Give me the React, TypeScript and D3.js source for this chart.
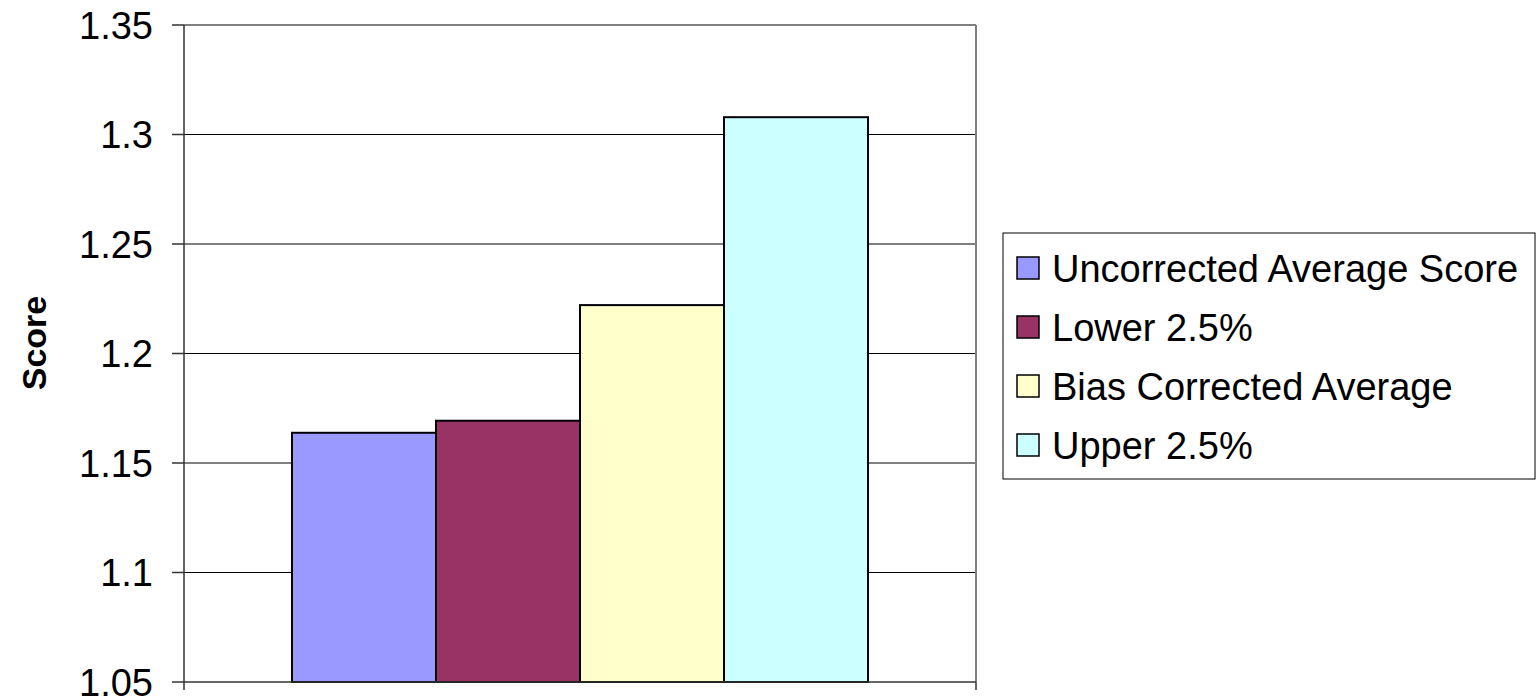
import React from "react";
import * as d3 from "d3";

const seriesNames = ["Uncorrected Average Score", "Lower 2.5%", "Bias Corrected Average", "Upper 2.5%"];
const seriesValues = [1.1638, 1.1693, 1.2221, 1.3079];
const seriesColors = ["#9999FF", "#993366", "#FFFFCC", "#CCFFFF"];
const yTicks = [1.05, 1.1, 1.15, 1.2, 1.25, 1.3, 1.35];
const yTickLabels = ["1.05", "1.1", "1.15", "1.2", "1.25", "1.3", "1.35"];
const category = ["Score"];

const W = 1539, H = 698;
const left = 184, right = 976, top = 25, bottom = 682;

export default function App() {
  const y = d3.scaleLinear().domain([1.05, 1.35]).range([bottom, top]);
  const xCat = d3.scaleBand().domain(category).range([left, right]).paddingInner(0).paddingOuter(0);
  const groupW = xCat.bandwidth() * (4 / 5.5);
  const groupX0 = xCat(category[0])! + (xCat.bandwidth() - groupW) / 2;
  const xs = d3.scaleBand().domain(seriesNames).range([groupX0, groupX0 + groupW]).padding(0);
  const font = "'Liberation Sans', Arial, sans-serif";
  const fs = 38;
  const legX = 1003, legY = 233, legW = 532, legH = 246;
  return (
    <svg width={W} height={H} style={{ position: "absolute", left: 0, top: 0, background: "#fff" }}>
      {yTicks.slice(1, -1).map((t) => (
        <line key={t} x1={left} x2={right} y1={y(t)} y2={y(t)} stroke="#000" strokeWidth={1} />
      ))}
      <line x1={left} x2={right} y1={top} y2={top} stroke="#808080" strokeWidth={2} />
      <line x1={right} x2={right} y1={top} y2={bottom} stroke="#808080" strokeWidth={2} />
      {seriesNames.map((s, i) => (
        <rect key={s} x={xs(s)!} y={y(seriesValues[i])} width={xs.bandwidth()} height={y(1.05) - y(seriesValues[i])}
          fill={seriesColors[i]} stroke="#000" strokeWidth={2} />
      ))}
      <line x1={left} x2={left} y1={top} y2={bottom} stroke="#333" strokeWidth={1.5} />
      <line x1={left} x2={right} y1={bottom} y2={bottom} stroke="#333" strokeWidth={1.5} />
      {yTicks.map((t, i) => (
        <g key={t}>
          <line x1={left - 12} x2={left} y1={y(t)} y2={y(t)} stroke="#333" strokeWidth={1.5} />
          <text x={153} y={y(t) + 13.5} textAnchor="end" fontFamily={font} fontSize={fs} fill="#000">{yTickLabels[i]}</text>
        </g>
      ))}
      <line x1={left} x2={left} y1={bottom} y2={bottom + 8} stroke="#333" strokeWidth={1.5} />
      <line x1={right} x2={right} y1={bottom} y2={bottom + 8} stroke="#333" strokeWidth={1.5} />
      <text transform={`translate(46,343) rotate(-90)`} textAnchor="middle" fontFamily={font} fontSize={34} fontWeight="bold" fill="#000">Score</text>
      <rect x={legX} y={legY} width={legW} height={legH} fill="#fff" stroke="#000" strokeWidth={1} />
      {seriesNames.map((s, i) => {
        const cy = 268 + i * 59;
        return (
          <g key={s}>
            <rect x={1017} y={cy - 11} width={22} height={22} fill={seriesColors[i]} stroke="#000" strokeWidth={1.5} />
            <text x={1052} y={cy + 13.5} fontFamily={font} fontSize={fs} fill="#000">{s}</text>
          </g>
        );
      })}
    </svg>
  );
}
